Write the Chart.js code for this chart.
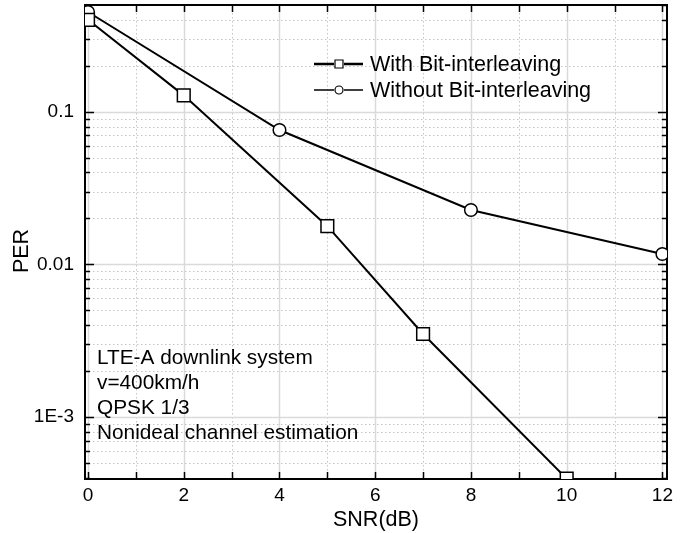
<!DOCTYPE html>
<html><head><meta charset="utf-8">
<script src="https://cdn.jsdelivr.net/npm/chart.js@4/dist/chart.umd.min.js"></script>
<style>html,body{margin:0;padding:0;background:#fff}#wrap{width:696px;height:533px}</style>
</head><body>
<div id="wrap"><canvas id="c" width="696" height="533"></canvas></div>
<script>
// ---- data ----
const snrWith = [0, 2, 5, 7, 10];
const perWith = [0.40, 0.128, 0.0178, 0.0035, 0.000395];
const snrWithout = [0, 4, 8, 12];
const perWithout = [0.45, 0.0759, 0.0227, 0.0117];
const seriesNames = ['With Bit-interleaving', 'Without Bit-interleaving'];
const xTickValues = [0, 1, 2, 3, 4, 5, 6, 7, 8, 9, 10, 11, 12];
const xTickLabels = ['0', '', '2', '', '4', '', '6', '', '8', '', '10', '', '12'];
const yTickValues = [0.0004, 0.0005, 0.0006, 0.0007, 0.0008, 0.0009,
  0.001, 0.002, 0.003, 0.004, 0.005, 0.006, 0.007, 0.008, 0.009,
  0.01, 0.02, 0.03, 0.04, 0.05, 0.06, 0.07, 0.08, 0.09,
  0.1, 0.2, 0.3, 0.4, 0.5];
const yTickLabels = ['', '', '', '', '', '',
  '1E-3', '', '', '', '', '', '', '', '',
  '0.01', '', '', '', '', '', '', '', '',
  '0.1', '', '', '', ''];
const xTitle = 'SNR(dB)';
const yTitle = 'PER   ';
const noteLines = ['LTE-A downlink system', 'v=400km/h', 'QPSK 1/3', 'Nonideal channel estimation'];

const FONT = '"Liberation Sans", Arial, Helvetica, sans-serif';

const framePlugin = {
  id: 'frame',
  beforeDatasetsDraw(chart) {
    const { ctx, chartArea: a, scales: { x, y } } = chart;
    ctx.save();
    // grid lines
    x.ticks.forEach((t, i) => {
      const px = Math.round(x.getPixelForValue(t.value)) + 0.5;
      ctx.beginPath();
      if (xTickLabels[i] !== '') { ctx.setLineDash([]); ctx.strokeStyle = '#dadada'; ctx.lineWidth = 1.5; }
      else { ctx.setLineDash([1.5, 2.5]); ctx.strokeStyle = '#c4c4c4'; ctx.lineWidth = 1; }
      ctx.moveTo(px, a.top); ctx.lineTo(px, a.bottom); ctx.stroke();
    });
    y.ticks.forEach((t, i) => {
      const py = Math.round(y.getPixelForValue(t.value)) + 0.5;
      ctx.beginPath();
      if (yTickLabels[i] !== '') { ctx.setLineDash([]); ctx.strokeStyle = '#dadada'; ctx.lineWidth = 1.5; }
      else { ctx.setLineDash([1.5, 2.5]); ctx.strokeStyle = '#c4c4c4'; ctx.lineWidth = 1; }
      ctx.moveTo(a.left, py); ctx.lineTo(a.right, py); ctx.stroke();
    });
    ctx.setLineDash([]);
    ctx.strokeStyle = '#000';
    // inward tick marks
    ctx.lineWidth = 1.5;
    x.ticks.forEach((t) => {
      const px = Math.round(x.getPixelForValue(t.value)) + 0.5;
      ctx.beginPath();
      ctx.moveTo(px, a.bottom); ctx.lineTo(px, a.bottom - 7);
      ctx.moveTo(px, a.top); ctx.lineTo(px, a.top + 7);
      ctx.stroke();
    });
    y.ticks.forEach((t, i) => {
      const py = Math.round(y.getPixelForValue(t.value)) + 0.5;
      const len = yTickLabels[i] !== '' ? 9 : 5;
      ctx.beginPath();
      ctx.moveTo(a.left, py); ctx.lineTo(a.left + len, py);
      ctx.moveTo(a.right, py); ctx.lineTo(a.right - len, py);
      ctx.stroke();
    });
    // frame
    ctx.lineWidth = 2;
    ctx.strokeRect(a.left, a.top, a.right - a.left, a.bottom - a.top);
    ctx.restore();
  },
  afterDraw(chart) {
    const { ctx } = chart;
    ctx.save();
    ctx.fillStyle = '#000';
    ctx.strokeStyle = '#000';
    ctx.textBaseline = 'middle';
    ctx.textAlign = 'left';
    // legend
    ctx.font = '21.5px ' + FONT;
    const rows = [{ y: 64, w: 2.5, style: 'rect' }, { y: 90, w: 1.5, style: 'circle' }];
    rows.forEach((r, i) => {
      ctx.lineWidth = r.w;
      ctx.beginPath();
      ctx.moveTo(314, r.y); ctx.lineTo(334, r.y);
      ctx.moveTo(344, r.y); ctx.lineTo(363, r.y);
      ctx.stroke();
      ctx.lineWidth = 1.2;
      ctx.beginPath();
      if (r.style === 'rect') ctx.rect(335, r.y - 4, 8, 8);
      else ctx.arc(339, r.y, 4, 0, Math.PI * 2);
      ctx.fillStyle = '#fff'; ctx.fill(); ctx.stroke();
      ctx.fillStyle = '#000';
      ctx.fillText(chart.data.datasets[i].label, 370, r.y + 1);
    });
    // annotation
    ctx.font = '20.8px ' + FONT;
    noteLines.forEach((s, i) => ctx.fillText(s, 97, 358 + i * 25));
    ctx.restore();
  }
};

new Chart(document.getElementById('c'), {
  type: 'line',
  data: {
    datasets: [
      {
        label: seriesNames[0],
        data: snrWith.map((v, i) => ({ x: v, y: perWith[i] })),
        borderColor: '#000', borderWidth: 2,
        pointStyle: 'rect', pointRadius: 9, pointBorderWidth: 1.5,
        pointBackgroundColor: '#fff', pointBorderColor: '#000',
        clip: 0, tension: 0
      },
      {
        label: seriesNames[1],
        data: snrWithout.map((v, i) => ({ x: v, y: perWithout[i] })),
        borderColor: '#000', borderWidth: 2,
        pointStyle: 'circle', pointRadius: 6.3, pointBorderWidth: 1.5,
        pointBackgroundColor: '#fff', pointBorderColor: '#000',
        clip: 0, tension: 0
      }
    ]
  },
  options: {
    responsive: false,
    animation: false,
    events: [],
    layout: { autoPadding: false, padding: { top: 5, right: 29, left: 0, bottom: 0 } },
    plugins: { legend: { display: false }, tooltip: { enabled: false } },
    scales: {
      x: {
        type: 'linear', min: -0.063, max: 12.096,
        afterBuildTicks: (s) => { s.ticks = xTickValues.map(v => ({ value: v })); },
        afterFit: (s) => { s.height = 54; s.paddingLeft = 0; s.paddingRight = 0; },
        grid: { display: false, drawTicks: false },
        border: { display: false },
        ticks: {
          autoSkip: false, maxRotation: 0, padding: 5, color: '#000',
          font: { family: FONT, size: 19 },
          callback: (v, i) => xTickLabels[i]
        },
        title: { display: true, text: xTitle, color: '#000', font: { family: FONT, size: 21.5 }, padding: { top: 0, bottom: 0 } }
      },
      y: {
        type: 'logarithmic', min: 0.000393, max: 0.5,
        afterBuildTicks: (s) => { s.ticks = yTickValues.map(v => ({ value: v })); },
        afterFit: (s) => { s.width = 85; s.paddingTop = 0; s.paddingBottom = 0; },
        grid: { display: false, drawTicks: false },
        border: { display: false },
        ticks: {
          autoSkip: false, padding: 11, color: '#000',
          font: { family: FONT, size: 19 },
          callback: (v, i) => yTickLabels[i]
        },
        title: { display: true, text: yTitle, color: '#000', font: { family: FONT, size: 21.5 }, padding: { top: 9, bottom: 0 } }
      }
    }
  },
  plugins: [framePlugin]
});
</script>
</body></html>
